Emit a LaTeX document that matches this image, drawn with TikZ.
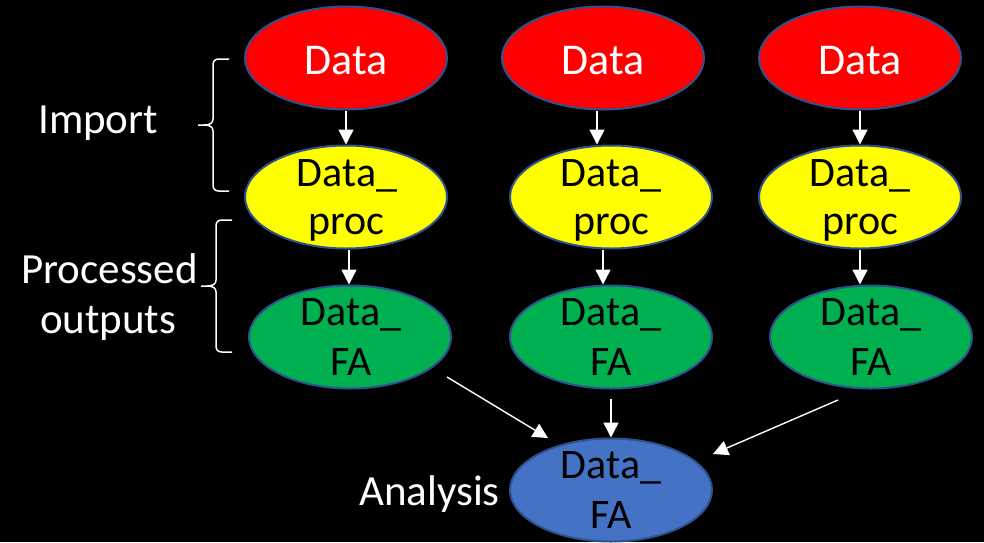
\documentclass[tikz,border=0pt]{standalone}
\usepackage{fontspec}
\setmainfont{Carlito}
\usetikzlibrary{shapes.geometric,arrows.meta,calc}
\definecolor{ovalline}{HTML}{2F528F}
\definecolor{ovred}{HTML}{FF0000}
\definecolor{ovyellow}{HTML}{FFFF00}
\definecolor{ovgreen}{HTML}{00B050}
\definecolor{ovblue}{HTML}{4472C4}
\begin{document}
\begin{tikzpicture}[x=1pt,y=-1pt,
  oval/.style={ellipse, draw=ovalline, line width=2pt, minimum width=202pt, minimum height=103pt, inner sep=0pt},
  txt/.style={font=\fontsize{42}{49}\selectfont, inner sep=0pt, anchor=base},
  bigtxt/.style={txt, font=\fontsize{44}{50}\selectfont, text=white},
  lbl/.style={txt, font=\fontsize{43}{50}\selectfont, text=white, anchor=base west},
  conn/.style={draw=white, line width=1.4pt, -{Triangle[length=15pt,width=15pt]}},
  bracepath/.style={draw=white, line width=1.5pt}]
\fill[black] (0,0) rectangle (984,542);
\useasboundingbox (0,0) rectangle (984,542);

% ovals
\node[oval, fill=ovred] (r1) at (346,58) {};
\node[oval, fill=ovred] (r2) at (603,58) {};
\node[oval, fill=ovred] (r3) at (860,58) {};
\node[oval, fill=ovyellow] (y1) at (346,197) {};
\node[oval, fill=ovyellow] (y2) at (611,197) {};
\node[oval, fill=ovyellow] (y3) at (860,197) {};
\node[oval, fill=ovgreen] (g1) at (350,337) {};
\node[oval, fill=ovgreen] (g2) at (611,337) {};
\node[oval, fill=ovgreen] (g3) at (871,337) {};
\node[oval, fill=ovblue] (b) at (611,490) {};

% oval texts
\node[bigtxt] (r1t) at (346,74) {Data};
\node[bigtxt] (r2t) at (603,74) {Data};
\node[bigtxt] (r3t) at (860,74) {Data};
\node[txt] (y1a) at (347,186) {Data\_};
\node[txt] (y1b) at (346,234) {proc};
\node[txt] (y2a) at (611,186) {Data\_};
\node[txt] (y2b) at (611,234) {proc};
\node[txt] (y3a) at (860,186) {Data\_};
\node[txt] (y3b) at (860,234) {proc};
\node[txt] (g1a) at (351,325) {Data\_};
\node[txt] (g1b) at (351,375) {FA};
\node[txt] (g2a) at (611,325) {Data\_};
\node[txt] (g2b) at (611,375) {FA};
\node[txt] (g3a) at (871,325) {Data\_};
\node[txt] (g3b) at (871,375) {FA};
\node[txt] (ba) at (611,478) {Data\_};
\node[txt] (bb) at (611,528) {FA};

% side labels
\node[lbl] (imp) at (38,133) {Import};
\node[lbl] (proc) at (21,283) {Processed};
\node[lbl] (outp) at (40,333) {outputs};
\node[lbl] (ana) at (359,505) {Analysis};

% braces
\draw[bracepath] (229,59) -- (219,59) .. controls (215,59) and (213,61) .. (213,65)
  -- (213,119) .. controls (213,123) and (210,125) .. (204,125) -- (198,125)
  -- (204,125) .. controls (210,125) and (213,127) .. (213,131)
  -- (213,185) .. controls (213,189) and (215,191) .. (219,191) -- (229,191);
\draw[bracepath] (232,220) -- (222,220) .. controls (218,220) and (216,222) .. (216,226)
  -- (216,280) .. controls (216,284) and (213,286) .. (207,286) -- (201,286)
  -- (207,286) .. controls (213,286) and (216,288) .. (216,292)
  -- (216,346) .. controls (216,350) and (218,352) .. (222,352) -- (232,352);

% connectors
\draw[conn] (r1.south) -- (y1.north);
\draw[conn] ([xshift=-6pt]r2.south) -- ([xshift=-6pt]r2.south |- y2.north);
\draw[conn] (r3.south) -- (y3.north);
\draw[conn] ([xshift=3pt]y1.south) -- ([xshift=3pt]y1.south |- g1.north);
\draw[conn] ([xshift=-8pt]y2.south) -- ([xshift=-8pt]y2.south |- g2.north);
\draw[conn] (y3.south) -- (y3.south |- g3.north);
\draw[conn] ([yshift=-9pt]g2.south) -- (b.north);
\draw[conn] ($(g1.center)+(97,40)$) -- ($(b.center)+(-63,-52)$);
\draw[conn] ($(g3.center)+(-33,63)$) -- ($(b.center)+(102,-36)$);
\end{tikzpicture}
\end{document}
